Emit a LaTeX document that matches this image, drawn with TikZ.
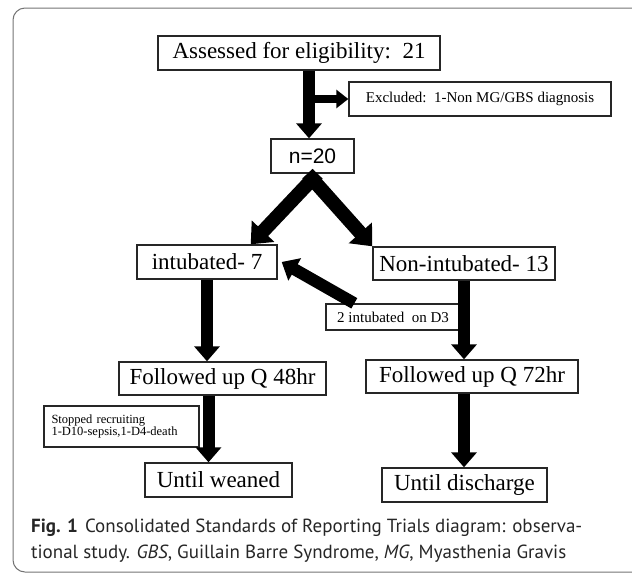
\documentclass[tikz,border=0pt]{standalone}
\usepackage{fontspec}
\setmainfont{Liberation Serif}
\newfontfamily\capfont{PT Sans}
\newfontfamily\arialfont{Liberation Sans}
\usetikzlibrary{arrows.meta,calc}
\newcommand\pxsize[1]{\fontsize{#1pt}{#1pt}\selectfont}
\begin{document}
\begin{tikzpicture}[x=1pt,y=-1pt,
  box/.style={draw=black!85,line width=1.4pt,inner sep=0pt,align=center,font=\pxsize{23}},
  arr/.style={line width=12pt,-{Triangle[width=25pt,length=15pt]}},
  diag/.style={line width=14pt,-{Triangle[width=30pt,length=18pt]}},
  thinarr/.style={line width=8pt,-{Triangle[width=18pt,length=12pt]}},
  capstyle/.style={inner sep=0pt,text=black!85,font=\capfont\pxsize{19}}]
\useasboundingbox (0,0) rectangle (632,574);
\draw[black!55,line width=1pt,rounded corners=12pt] (13,8) rectangle (660,572);

\node[box,minimum width=282pt,minimum height=34pt] (a) at (299,53) {Assessed for eligibility:\ \ 21};
\node[box,minimum width=262pt,minimum height=34pt,font=\pxsize{15}] (excl) at (480,99) {Excluded:\ \ 1-Non MG/GBS diagnosis};
\node[box,minimum width=83pt,minimum height=34pt,font=\arialfont\pxsize{21}] (n20) at (312.5,156) {n=20};
\node[box,minimum width=140pt,minimum height=34pt] (intub) at (207,262) {intubated- 7};
\node[box,minimum width=182pt,minimum height=33pt] (nonint) at (464,263.5) {Non-intubated- 13};
\node[box,minimum width=134pt,minimum height=26pt,font=\pxsize{15}] (two) at (393,317) {2 intubated\ \ on D3};
\node[box,minimum width=207pt,minimum height=33pt] (q48) at (222.5,378.5) {Followed up Q 48hr};
\node[box,minimum width=212pt,minimum height=33pt] (q72) at (472,376.5) {Followed up Q 72hr};
\node[box,minimum width=155pt,minimum height=41pt,font=\pxsize{12.5},align=left,text width=140pt] (stop) at (121.5,426.5) {Stopped recruiting\\1-D10-sepsis,1-D4-death};
\node[box,minimum width=147pt,minimum height=34pt] (weaned) at (218.5,480) {Until weaned};
\node[box,minimum width=165pt,minimum height=34pt] (dis) at (464.5,485) {Until discharge};

\draw[arr] ([xshift=10pt]a.south) -- ([xshift=10pt]a.south |- n20.north);
\draw[thinarr] ([xshift=10pt]a.south |- excl.west) -- (excl.west);
\draw[diag] ([xshift=5pt]n20.south) -- ([xshift=-27pt]intub.north east);
\draw[diag] ([xshift=-5pt]n20.south) -- (nonint.north west);
\draw[arr] ([xshift=29pt]two.north west) -- ([xshift=4pt]intub.east);
\draw[arr] (intub.south) -- (intub.south |- q48.north);
\draw[arr] (nonint.south) -- (nonint.south |- q72.north);
\draw[arr] ([xshift=-14pt]q48.south) -- ([xshift=-14pt]q48.south |- weaned.north);
\draw[arr] (nonint.south |- q72.south) -- (nonint.south |- dis.north);

\node[capstyle,anchor=base west] (cap1) at (31,532) {\textbf{Fig. 1}\hspace{7pt}Consolidated Standards of Reporting Trials diagram: observa-};
\node[capstyle,anchor=base west] (cap2) at (31,558) {tional study. \textit{GBS}, Guillain Barre Syndrome, \textit{MG}, Myasthenia Gravis};
\end{tikzpicture}
\end{document}
